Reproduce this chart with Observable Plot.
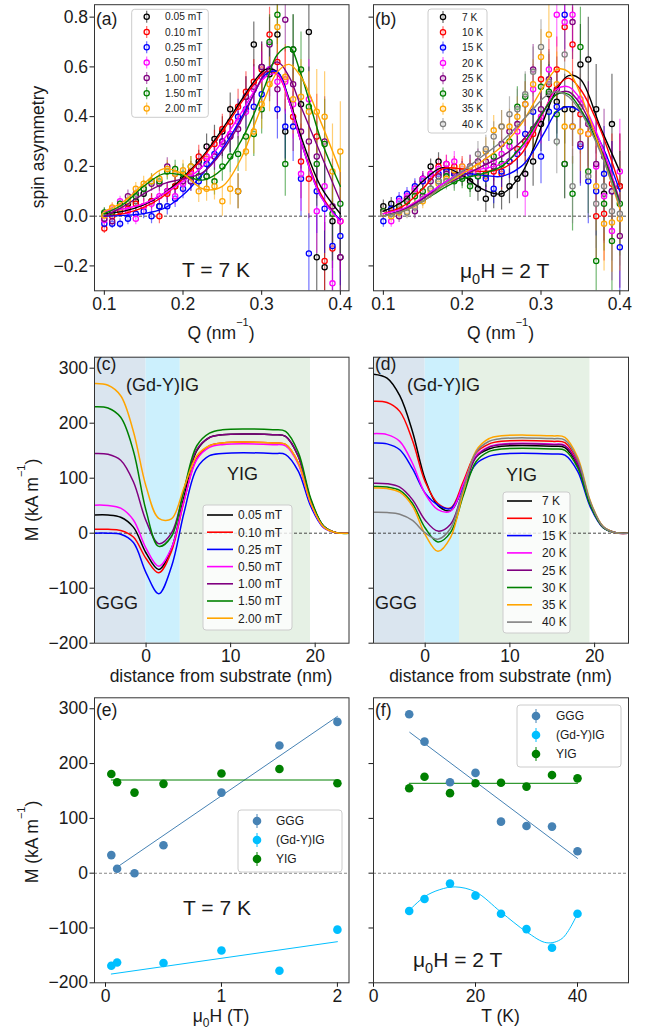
<!DOCTYPE html>
<html>
<head>
<meta charset="utf-8">
<script src="https://cdn.jsdelivr.net/npm/d3@7"></script>
<script src="https://cdn.jsdelivr.net/npm/@observablehq/plot@0.6"></script>
<style>
html,body{margin:0;padding:0;background:#fff;}
#wrap{position:relative;width:646px;height:1036px;overflow:hidden;background:#fff;}
#wrap svg{position:absolute;left:0;top:0;}
</style>
</head>
<body>
<div id="wrap"></div>
<script>
const FONT = '"Liberation Sans", Arial, Helvetica, sans-serif';

// ---------- (a) spin asymmetry vs Q at T = 7 K ----------
const qPoints = [0.10,0.11,0.12,0.13,0.14,0.15,0.16,0.17,0.18,0.19,0.20,0.21,0.22,0.23,0.24,0.25,0.26,0.27,0.28,0.29,0.30,0.31,0.32,0.33,0.34,0.35,0.36,0.37,0.38,0.39,0.40];
const errA = [0.02,0.02,0.02,0.025,0.025,0.03,0.03,0.03,0.035,0.035,0.04,0.04,0.045,0.05,0.055,0.06,0.065,0.07,0.08,0.09,0.10,0.11,0.12,0.13,0.14,0.15,0.16,0.17,0.18,0.19,0.20];
const errB = [0.025,0.025,0.025,0.025,0.03,0.03,0.03,0.035,0.035,0.04,0.04,0.045,0.05,0.055,0.06,0.065,0.07,0.08,0.09,0.10,0.11,0.12,0.13,0.14,0.15,0.16,0.17,0.18,0.19,0.20,0.21];

const fieldLabels = ["0.05 mT","0.10 mT","0.25 mT","0.50 mT","1.00 mT","1.50 mT","2.00 mT"];
const fieldColors = ["black","red","blue","magenta","purple","green","orange"];

const asymA_005 = [0.01,0.02,0.03,0.05,0.06,0.09,0.06,0.04,0.10,0.12,0.15,0.16,0.22,0.28,0.31,0.34,0.43,0.10,0.48,0.69,0.60,0.57,0.73,0.34,0.67,0.45,0.74,-0.165,-0.205,-0.02,-0.165];
const asymA_010 = [-0.05,0.00,0.02,0.03,0.05,0.04,0.06,0.00,0.09,0.12,0.14,0.18,0.24,0.23,0.29,0.35,0.38,0.44,0.50,0.54,0.59,0.73,0.62,0.55,0.40,0.22,0.15,0.32,-0.18,-0.13,-0.02];
const asymA_025 = [-0.03,-0.03,-0.03,-0.01,0.01,0.02,0.00,0.04,0.04,0.07,0.11,0.14,0.14,0.21,0.25,0.30,0.32,0.40,0.43,0.44,0.49,0.59,0.43,0.36,0.36,0.15,-0.15,0.10,0.03,-0.12,-0.08];
const asymA_050 = [-0.015,0.03,0.06,0.02,-0.01,0.04,0.05,0.08,0.10,0.08,0.13,0.17,0.20,0.24,0.24,0.29,0.33,0.38,0.42,0.51,0.56,0.59,0.54,0.54,0.45,0.17,0.47,0.02,0.12,-0.27,-0.02];
const asymA_100 = [-0.01,-0.02,0.04,0.08,0.09,0.11,0.13,0.13,0.20,0.17,0.14,0.14,0.20,0.16,0.24,0.30,0.32,0.35,0.48,0.52,0.60,0.69,0.51,0.79,0.53,0.34,0.30,0.24,0.30,0.04,-0.165];
const asymA_150 = [0.015,0.015,0.05,0.06,0.08,0.11,0.14,0.14,0.18,0.19,0.17,0.20,0.16,0.16,0.14,0.20,0.24,0.25,0.32,0.33,0.43,0.70,0.81,0.21,0.67,0.59,0.44,0.21,0.29,0.01,0.05];
const asymA_200 = [0.003,0.035,0.035,0.06,0.11,0.13,0.14,0.15,0.19,0.17,0.185,0.20,0.10,0.11,0.12,0.06,0.11,0.10,0.26,0.34,0.45,0.53,0.76,0.56,0.47,0.48,0.42,0.42,0.40,0.18,0.26];
const asymA = [asymA_005, asymA_010, asymA_025, asymA_050, asymA_100, asymA_150, asymA_200];

const qFit = [0.10,0.125,0.15,0.175,0.20,0.225,0.25,0.275,0.29,0.305,0.32,0.335,0.35,0.375,0.40];
const fitA_005 = [0.01,0.02,0.045,0.09,0.155,0.24,0.35,0.47,0.54,0.59,0.58,0.47,0.32,0.12,0.01];
const fitA_010 = [0.0,0.01,0.035,0.08,0.15,0.235,0.34,0.46,0.53,0.58,0.57,0.46,0.30,0.09,-0.02];
const fitA_025 = [0.0,0.003,0.01,0.03,0.085,0.17,0.27,0.40,0.49,0.57,0.58,0.46,0.30,0.08,-0.015];
const fitA_050 = [0.02,0.03,0.05,0.09,0.14,0.20,0.30,0.42,0.50,0.56,0.57,0.46,0.30,0.08,-0.02];
const fitA_100 = [0.0,0.04,0.09,0.13,0.15,0.175,0.26,0.39,0.49,0.58,0.62,0.56,0.44,0.25,0.06];
const fitA_150 = [0.01,0.05,0.12,0.17,0.165,0.145,0.19,0.31,0.41,0.53,0.65,0.68,0.57,0.31,0.12];
const fitA_200 = [0.02,0.06,0.13,0.19,0.17,0.11,0.12,0.24,0.36,0.48,0.58,0.61,0.56,0.38,0.18];
const fitA = [fitA_005, fitA_010, fitA_025, fitA_050, fitA_100, fitA_150, fitA_200];

// ---------- (b) spin asymmetry vs Q at 2 T ----------
const tempLabels = ["7 K","10 K","15 K","20 K","25 K","30 K","35 K","40 K"];
const tempColors = ["black","red","blue","magenta","purple","green","orange","gray"];
const asymB_7  = [0.04,0.05,0.03,0.06,0.11,0.15,0.20,0.22,0.19,0.17,0.16,0.14,0.11,0.07,0.09,0.09,0.12,0.15,0.17,0.22,0.37,0.49,0.46,0.43,0.43,0.61,0.63,0.43,0.09,0.37,0.12];
const asymB_10 = [0.02,0.02,0.04,0.07,0.10,0.14,0.17,0.20,0.21,0.20,0.19,0.18,0.17,0.16,0.18,0.17,0.22,0.27,0.30,0.33,0.55,0.53,0.59,0.76,0.69,0.41,0.33,0.00,0.01,0.13,0.12];
const asymB_15 = [-0.02,0.03,0.07,0.09,0.12,0.14,0.16,0.17,0.18,0.17,0.18,0.17,0.16,0.15,0.11,0.18,0.22,0.25,0.33,0.42,0.24,0.42,0.44,0.81,0.36,0.28,0.14,0.10,0.17,0.10,-0.125];
const asymB_20 = [0.01,-0.02,0.06,0.08,0.11,0.15,0.17,0.19,0.21,0.22,0.20,0.20,0.18,0.20,0.22,0.25,0.28,0.34,0.09,0.51,0.40,0.59,0.81,0.78,0.81,0.47,0.33,0.20,0.08,-0.06,0.18];
const asymB_25 = [0.02,0.01,0.00,0.07,0.02,0.08,0.14,0.16,0.17,0.18,0.18,0.20,0.22,0.22,0.20,0.29,0.34,0.37,0.45,0.59,0.43,0.55,0.51,0.21,0.78,0.29,0.37,0.21,0.24,0.10,-0.08];
const asymB_30 = [0.02,0.01,0.04,0.06,0.08,0.10,0.11,0.14,0.16,0.14,0.15,0.12,0.16,0.17,0.24,0.21,0.30,0.44,0.48,0.35,0.52,0.50,0.41,0.21,0.09,0.68,0.18,-0.18,0.05,-0.10,0.05];
const asymB_35 = [0.01,0.00,0.015,0.02,0.045,0.06,0.10,0.13,0.15,0.185,0.20,0.185,0.20,0.26,0.345,0.36,0.36,0.40,0.45,0.53,0.64,0.73,0.53,0.36,0.36,0.34,0.33,0.12,-0.03,-0.025,-0.01];
const asymB_40 = [0.01,0.01,0.02,0.015,0.035,0.07,0.11,0.14,0.14,0.15,0.17,0.20,0.25,0.27,0.32,0.36,0.41,0.43,0.49,0.58,0.68,0.54,0.30,0.65,0.12,0.44,0.16,0.05,0.12,0.02,0.01];
const asymB = [asymB_7, asymB_10, asymB_15, asymB_20, asymB_25, asymB_30, asymB_35, asymB_40];

const fitB_7  = [0.02,0.06,0.14,0.195,0.165,0.11,0.09,0.17,0.27,0.40,0.51,0.565,0.55,0.36,0.18];
const fitB_10 = [0.01,0.04,0.11,0.19,0.19,0.18,0.19,0.25,0.33,0.43,0.52,0.555,0.51,0.35,0.12];
const fitB_15 = [0.0,0.025,0.07,0.13,0.17,0.165,0.16,0.20,0.26,0.34,0.42,0.44,0.42,0.30,0.10];
const fitB_20 = [0.01,0.03,0.075,0.13,0.175,0.19,0.21,0.27,0.34,0.43,0.51,0.52,0.47,0.30,0.06];
const fitB_25 = [0.0,0.025,0.07,0.12,0.16,0.20,0.24,0.30,0.36,0.43,0.49,0.50,0.45,0.28,0.06];
const fitB_30 = [0.0,0.02,0.06,0.11,0.15,0.17,0.20,0.28,0.35,0.43,0.49,0.49,0.43,0.27,0.05];
const fitB_35 = [0.0,0.02,0.06,0.12,0.17,0.22,0.28,0.37,0.45,0.53,0.59,0.58,0.49,0.27,0.03];
const fitB_40 = [0.0,0.02,0.06,0.12,0.18,0.24,0.30,0.38,0.43,0.48,0.50,0.48,0.42,0.26,0.04];
const fitB = [fitB_7, fitB_10, fitB_15, fitB_20, fitB_25, fitB_30, fitB_35, fitB_40];

// ---------- (c),(d) magnetization depth profiles ----------
const depth = [-6.1,-4.5,-3,-1.5,0,1.5,3,4.5,6,7.5,9,15,16.5,18,19.5,21,22.5,24];
const layerEdges = [-6.1, 0, 4.05, 19.45];
const profC_005 = [33,33,29,11,-36,-66,-28,67,150,174,179,179,176,140,59,12.5,1,0];
const profC_010 = [7,7,5,-7,-46,-72,-33,59,136,159,164,164,161.5,128,54,11.5,1,0];
const profC_025 = [0,0,-2,-17,-72,-110,-61,38,118,141,145,145,143,113,48,10,1,0];
const profC_050 = [51,50.5,45.5,24,-27.5,-60,-27,60,134,156,161,161,158.6,125.6,53,11,1,0];
const profC_100 = [145,143.5,132.7,93.5,22.4,-19,0,79,152,174,179,179,176,140,59,12.5,1,0];
const profC_150 = [230,227.7,210.7,149.6,41,-24,-6,80.5,159,182,188,188,185,147,62,13,1,0];
const profC_200 = [272,269,250,185,85,27,26,83.5,141,159,164,164,161.5,128,54,11.5,1,0];
const profC = [profC_005, profC_010, profC_025, profC_050, profC_100, profC_150, profC_200];

const profD_7  = [289,282,250,185,98,50.6,41,87,139,153,158,158,155.6,123,52,11,1,0];
const profD_10 = [240,237.6,221.5,168.5,93.7,54,46,94,145.7,162,167,167,164.5,130,55,11.7,1,0];
const profD_15 = [164,162.4,151.7,117.2,72.8,51.3,44.7,83.4,126,139.7,144,144,141.8,112.3,47.5,10,0.7,0];
const profD_20 = [181,179.2,167,127.2,71.7,43,40.2,89.4,141,157,162,162,159.6,126.4,53.5,11.3,0.8,0];
const profD_25 = [91,90,83.6,61,23.7,3.8,16.3,78.8,138,156,161,161,158.6,125.6,53,11.3,0.8,0];
const profD_30 = [85,84,77.7,53.9,9.4,-16,1.5,68.7,130,148.4,153,153,150.7,119.3,50.5,10.7,0.8,0];
const profD_35 = [82,81.2,74.5,49.3,-2.4,-33,-7.6,75.5,149.6,171.7,177,177,174.3,138,58.4,12.4,0.9,0];
const profD_40 = [38,37.6,34.6,23.2,0.5,-11,9,80.7,147,166.8,172,172,169.4,134,56.8,12,0.9,0];
const profD = [profD_7, profD_10, profD_15, profD_20, profD_25, profD_30, profD_35, profD_40];

// ---------- (e) layer magnetization vs field, (f) vs temperature ----------
const layerNames = ["GGG","(Gd-Y)IG","YIG"];
const layerColors = ["steelblue","deepskyblue","green"];
const fieldT = [0.05,0.10,0.25,0.50,1.00,1.50,2.00];
const fieldGdYIG = [0.05,0.10,0.50,1.00,1.50,2.00];
const mGGG_H = [33,8,0,51,147,233,276];
const mYIG_H = [181,166,147,163,182,190,164];
const mGdYIG_H = [-169,-163,-164,-141,-178,-103];
const fitH_GGG = {x: [0.086, 2.0], y: [9, 286]};
const fitH_YIG = {x: [0.05, 2.0], y: [170, 170]};
const fitH_GdYIG = {x: [0.05, 2.0], y: [-184, -125]};

const tempK = [7,10,15,20,25,30,35,40];
const mGGG_T = [290,240,166,183,94,86,85,40];
const mYIG_T = [155,176,146,164,165,158,179,173];
const mGdYIG_T = [-69,-47,-19,-41,-74,-102,-136,-74];
const fitT_GGG = {x: [7.1, 40], y: [257, 27]};
const fitT_YIG = {x: [7, 40], y: [164, 164]};
const fitT_GdYIG = {x: [7,10,13,16,20,25,30,34,37,40], y: [-68,-43,-30,-25,-34,-71,-107,-127,-119,-74]};

// ---------- helpers ----------
const wrap = document.getElementById("wrap");
const COLS = {L: [94, 348.5], R: [373, 628]};
const ROWS = [[4.2, 290.3], [356.7, 642.7], [697.3, 982.3]];
const yFmt = d3.format(".1f");
const intFmt = d3.format("d");
const blank = () => "";

function panel(col, row, o) {
  const [l, r] = COLS[col], [t, b] = ROWS[row];
  const svg = Plot.plot({
    width: 646, height: 1036,
    marginLeft: l, marginRight: 646 - r, marginTop: t, marginBottom: 1036 - b,
    x: {domain: o.xd}, y: {domain: o.yd},
    color: o.color,
    style: {background: "transparent", fontFamily: FONT, color: "#1a1a1a"},
    marks: [
      ...o.marks,
      Plot.axisX({ticks: o.xt, tickFormat: o.xf, tickSize: 4.5, tickPadding: 2, fontSize: 17.5, label: null}),
      Plot.axisY({ticks: o.yt, tickFormat: o.yf, tickSize: 4.5, tickPadding: 2, fontSize: 17.5, label: null}),
      Plot.frame({stroke: "#333", strokeWidth: 1})
    ]
  });
  wrap.appendChild(svg);
}

function points(series, names, err) {
  return series.flatMap((vals, s) => vals.map((v, i) => ({q: qPoints[i], v, lo: v - err[i], hi: v + err[i], s: names[s]})));
}
function curves(series, names, xs) {
  return series.flatMap((vals, s) => vals.map((v, i) => ({x: xs[i], v, s: names[s]})));
}

function asymPanel(col, series, fits, names, colors, err) {
  const pts = points(series, names, err);
  const fl = curves(fits, names, qFit);
  panel(col, 0, {
    xd: [0.0875, 0.411], yd: [-0.3, 0.85],
    xt: [0.1,0.2,0.3,0.4], xf: yFmt,
    yt: [-0.2,0,0.2,0.4,0.6,0.8], yf: col === "L" ? yFmt : blank,
    color: {domain: names, range: colors},
    marks: [
      Plot.ruleY([0], {stroke: "#333", strokeDasharray: "3,2", strokeWidth: 0.9}),
      Plot.ruleX(pts, {x: "q", y1: "lo", y2: "hi", stroke: "s", strokeOpacity: 0.55, strokeWidth: 1.2, clip: true}),
      Plot.dot(pts, {x: "q", y: "v", stroke: "s", r: 2.6, strokeWidth: 1.3, fill: "white", fillOpacity: 0.4, clip: true}),
      Plot.line(fl, {x: "x", y: "v", z: "s", stroke: "s", strokeWidth: 1.4, curve: "catmull-rom", clip: true})
    ]
  });
}

function profilePanel(col, series, names, colors) {
  const fl = curves(series, names, depth);
  const bandFill = ["#dae5ef", "#ccf0fd", "#e6f1e5"];
  const bands = bandFill.map((c, i) => Plot.rect([i], {x1: () => layerEdges[i], x2: () => layerEdges[i + 1], y1: () => -200, y2: () => 320, fill: c, clip: true}));
  panel(col, 1, {
    xd: [-6.1, 24], yd: [-200, 320],
    xt: [0, 10, 20], xf: intFmt,
    yt: [-200,-100,0,100,200,300], yf: col === "L" ? intFmt : blank,
    color: {domain: names, range: colors},
    marks: [
      ...bands,
      Plot.ruleY([0], {stroke: "#333", strokeDasharray: "3,2", strokeWidth: 0.9}),
      Plot.line(fl, {x: "x", y: "v", z: "s", stroke: "s", strokeWidth: 1.5, curve: "catmull-rom", clip: true})
    ]
  });
}

function layerPanel(col, xs, xsGd, ggg, yig, gd, fits, o) {
  const pts = [
    ...xs.map((x, i) => ({x, v: ggg[i], s: "GGG"})),
    ...xsGd.map((x, i) => ({x, v: gd[i], s: "(Gd-Y)IG"})),
    ...xs.map((x, i) => ({x, v: yig[i], s: "YIG"}))
  ];
  const lin = (f, s) => f.x.map((x, i) => ({x, v: f.y[i], s}));
  panel(col, 2, {
    xd: o.xd, yd: [-200, 320],
    xt: o.xt, xf: intFmt,
    yt: [-200,-100,0,100,200,300], yf: col === "L" ? intFmt : blank,
    color: {domain: layerNames, range: layerColors},
    marks: [
      Plot.ruleY([0], {stroke: "#888", strokeDasharray: "3,2", strokeWidth: 1.1}),
      Plot.line(lin(fits[0], "GGG"), {x: "x", y: "v", stroke: "s", strokeWidth: 1, clip: true}),
      Plot.line(lin(fits[2], "YIG"), {x: "x", y: "v", stroke: "s", strokeWidth: 1, clip: true}),
      Plot.line(lin(fits[1], "(Gd-Y)IG"), {x: "x", y: "v", stroke: "s", strokeWidth: 1, curve: o.gdCurve, clip: true}),
      Plot.dot(pts, {x: "x", y: "v", fill: "s", r: 4.3, clip: true})
    ]
  });
}

asymPanel("L", asymA, fitA, fieldLabels, fieldColors, errA);
asymPanel("R", asymB, fitB, tempLabels, tempColors, errB);
profilePanel("L", profC, fieldLabels, fieldColors);
profilePanel("R", profD, tempLabels, tempColors);
layerPanel("L", fieldT, fieldGdYIG, mGGG_H, mYIG_H, mGdYIG_H, [fitH_GGG, fitH_GdYIG, fitH_YIG], {xd: [-0.095, 2.1], xt: [0, 1, 2], gdCurve: "linear"});
layerPanel("R", tempK, tempK, mGGG_T, mYIG_T, mGdYIG_T, [fitT_GGG, fitT_GdYIG, fitT_YIG], {xd: [0, 50], xt: [0, 20, 40], gdCurve: "catmull-rom"});

// ---------- annotations, axis titles and legends ----------
const ann = d3.select(wrap).append("svg").attr("width", 646).attr("height", 1036)
  .style("font-family", FONT);

function label(x, y, parts, fs, opt = {}) {
  const t = ann.append("text").attr("x", x).attr("y", y).attr("font-size", fs).attr("fill", "#1a1a1a");
  if (opt.anchor) t.attr("text-anchor", opt.anchor);
  if (opt.rotate) t.attr("transform", `rotate(-90,${x},${y})`);
  let off = 0;
  parts.forEach(p => {
    const s = t.append("tspan");
    if (Array.isArray(p)) {
      const shift = p[1] === "sup" ? -opt.sup : opt.sub;
      s.attr("dy", shift - off).attr("font-size", opt.small).text(p[0]);
      off = shift;
    } else {
      if (off) s.attr("dy", -off);
      off = 0;
      s.text(p);
    }
  });
}

function legend(o) {
  const g = ann.append("g");
  g.append("rect").attr("x", o.box[0]).attr("y", o.box[1])
    .attr("width", o.box[2] - o.box[0]).attr("height", o.box[3] - o.box[1])
    .attr("rx", 3).attr("fill", "white").attr("fill-opacity", 0.8)
    .attr("stroke", "#cccccc").attr("stroke-width", 1);
  o.labels.forEach((lab, i) => {
    const y = o.y0 + i * o.dy, c = o.colors[i];
    if (o.kind === "line") {
      g.append("line").attr("x1", o.mx[0]).attr("x2", o.mx[1]).attr("y1", y).attr("y2", y)
        .attr("stroke", c).attr("stroke-width", 1.6);
    } else if (o.kind === "open") {
      g.append("line").attr("x1", o.mx).attr("x2", o.mx).attr("y1", y - 6).attr("y2", y + 6)
        .attr("stroke", c).attr("stroke-opacity", 0.6).attr("stroke-width", 1.2);
      g.append("circle").attr("cx", o.mx).attr("cy", y).attr("r", 2.6)
        .attr("fill", "white").attr("fill-opacity", 0.4).attr("stroke", c).attr("stroke-width", 1.3);
    } else {
      g.append("line").attr("x1", o.mx).attr("x2", o.mx).attr("y1", y - 7).attr("y2", y + 7)
        .attr("stroke", c).attr("stroke-width", 1);
      g.append("circle").attr("cx", o.mx).attr("cy", y).attr("r", 4.3).attr("fill", c);
    }
    g.append("text").attr("x", o.tx).attr("y", y).attr("dy", "0.36em")
      .attr("font-size", o.fs).attr("fill", "#1a1a1a").text(lab);
  });
}

// panel letters
label(96, 24.5, ["(a)"], 17.5);
label(375, 24.5, ["(b)"], 17.5);
label(96, 370, ["(c)"], 17.5);
label(375, 370, ["(d)"], 17.5);
label(96, 716, ["(e)"], 17.5);
label(375, 716, ["(f)"], 17.5);

// in-panel notes
label(216, 277, ["T = 7 K"], 21, {anchor: "middle"});
label(460, 278, ["μ", ["0", "sub"], "H = 2 T"], 21, {sub: 5.5, small: 14.5});
label(217, 915, ["T = 7 K"], 21, {anchor: "middle"});
label(413, 967, ["μ", ["0", "sub"], "H = 2 T"], 21, {sub: 5.5, small: 14.5});
label(126, 391, ["(Gd-Y)IG"], 18);
label(227, 480, ["YIG"], 18);
label(96, 608.5, ["GGG"], 18);
label(407, 391, ["(Gd-Y)IG"], 18);
label(506, 480.5, ["YIG"], 18);
label(375, 609, ["GGG"], 18);

// axis titles
label(43.5, 147, ["spin asymmetry"], 17.5, {anchor: "middle", rotate: true});
label(37.5, 500, ["M (kA m", ["−1", "sup"], ")"], 17.5, {anchor: "middle", rotate: true, sup: 13, small: 11});
label(37.5, 842, ["M (kA m", ["−1", "sup"], ")"], 17.5, {anchor: "middle", rotate: true, sup: 13, small: 11});
label(221, 339, ["Q (nm", ["−1", "sup"], ")"], 17.5, {anchor: "middle", sup: 13, small: 11});
label(500.5, 339, ["Q (nm", ["−1", "sup"], ")"], 17.5, {anchor: "middle", sup: 13, small: 11});
label(221, 682, ["distance from substrate (nm)"], 17.5, {anchor: "middle"});
label(500.5, 682, ["distance from substrate (nm)"], 17.5, {anchor: "middle"});
label(221, 1022, ["μ", ["0", "sub"], "H (T)"], 17.5, {anchor: "middle", sub: 4.5, small: 12});
label(500.5, 1022, ["T (K)"], 17.5, {anchor: "middle"});

// legends
legend({box: [131.7, 9.3, 208.3, 117.3], labels: fieldLabels, colors: fieldColors, y0: 16.7, dy: 15.3, mx: 146.7, tx: 165, fs: 10.2, kind: "open"});
legend({box: [428, 9, 487, 133], labels: tempLabels, colors: tempColors, y0: 17, dy: 15.3, mx: 443, tx: 462, fs: 10.2, kind: "open"});
legend({box: [203, 505, 292, 630], labels: fieldLabels, colors: fieldColors, y0: 515, dy: 17.2, mx: [207, 233], tx: 238, fs: 12, kind: "line"});
legend({box: [503, 492, 570, 633], labels: tempLabels, colors: tempColors, y0: 501, dy: 17.3, mx: [507, 532], tx: 542, fs: 12, kind: "line"});
legend({box: [238, 810, 342, 872], labels: layerNames, colors: layerColors, y0: 821, dy: 19, mx: 257, tx: 276, fs: 12, kind: "filled"});
legend({box: [517, 705, 621, 767], labels: layerNames, colors: layerColors, y0: 716, dy: 19, mx: 536, tx: 556, fs: 12, kind: "filled"});
</script>
</body>
</html>
